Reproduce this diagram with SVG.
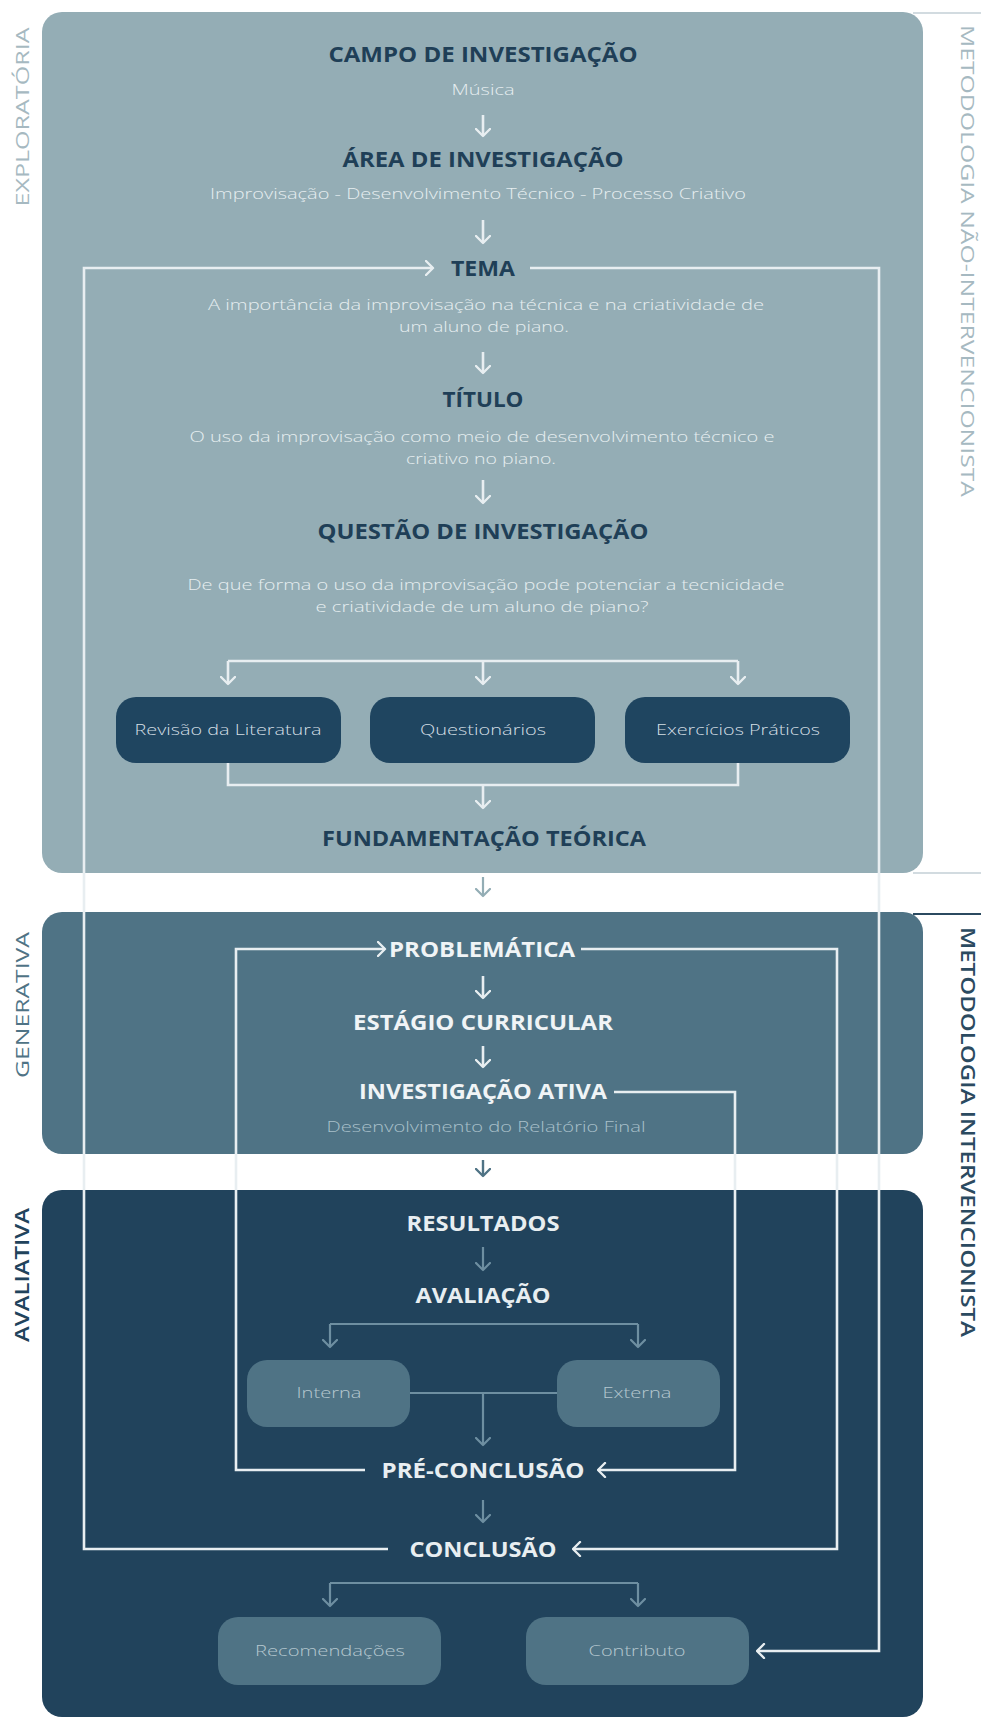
<svg xmlns="http://www.w3.org/2000/svg" width="981" height="1719" viewBox="0 0 981 1719">
<style>
.tt{font-family:"Open Sans","Liberation Sans",sans-serif;font-weight:700;font-size:21px;text-anchor:middle}
.bd{font-family:"Open Sans","Liberation Sans",sans-serif;font-weight:300;font-size:15px;text-anchor:middle}
.sd{font-family:"Open Sans","Liberation Sans",sans-serif;font-weight:400;font-size:19px;text-anchor:middle}
.p1t{fill:#1f3f57}.p1b{fill:#e6edf0}
.p2t{fill:#f0f4f6}.p2b{fill:#a9c0ca}
.p3t{fill:#e8eef1}
.bx1{fill:#1f4560}.bx1t{fill:#d3dee4}
.bx3{fill:#4f7385}.bx3t{fill:#b5c7cf}
.lw{fill:none;stroke:#e8eef1;stroke-width:2.6;stroke-linejoin:miter}
.lg{fill:none;stroke:#6e8fa1;stroke-width:2.2}
</style>
<defs>
<marker id="aw" viewBox="0 0 10 16" refX="8.5" refY="8" markerWidth="10" markerHeight="16" markerUnits="userSpaceOnUse" orient="auto"><path d="M1.5,1 L8.5,8 L1.5,15" fill="none" stroke="#e8eef1" stroke-width="2.4" stroke-linecap="round" stroke-linejoin="round"/></marker>
<marker id="ag" viewBox="0 0 10 16" refX="8.5" refY="8" markerWidth="10" markerHeight="16" markerUnits="userSpaceOnUse" orient="auto"><path d="M1.5,1 L8.5,8 L1.5,15" fill="none" stroke="#6e8fa1" stroke-width="2.2" stroke-linecap="round" stroke-linejoin="round"/></marker>
<marker id="a1" viewBox="0 0 10 16" refX="8.5" refY="8" markerWidth="10" markerHeight="16" markerUnits="userSpaceOnUse" orient="auto"><path d="M1.5,1 L8.5,8 L1.5,15" fill="none" stroke="#93adb5" stroke-width="2.2" stroke-linecap="round" stroke-linejoin="round"/></marker>
<marker id="a2" viewBox="0 0 10 16" refX="8.5" refY="8" markerWidth="10" markerHeight="16" markerUnits="userSpaceOnUse" orient="auto"><path d="M1.5,1 L8.5,8 L1.5,15" fill="none" stroke="#4f7385" stroke-width="2.4" stroke-linecap="round" stroke-linejoin="round"/></marker>
</defs>
<rect width="981" height="1719" fill="#ffffff"/>

<g id="panels">
<rect id="panel-exploratoria" x="42" y="12" width="881" height="861" rx="20" fill="#94adb5"/>
<rect id="panel-generativa" x="42" y="912" width="881" height="242" rx="20" fill="#4f7385"/>
<rect id="panel-avaliativa" x="42" y="1190" width="881" height="527" rx="20" fill="#21435c"/>
</g>

<g id="side-labels">
<path d="M913,13 H981 M913,873 H981" stroke="#c3d0d6" stroke-width="1.5" fill="none"/>
<path d="M913,914 H981" stroke="#2b4a60" stroke-width="2" fill="none"/>
<text class="sd" fill="#a6b9c1" transform="translate(29,117) rotate(-90)" textLength="179" lengthAdjust="spacingAndGlyphs">EXPLORATÓRIA</text>
<text class="sd" fill="#4f7385" transform="translate(29,1005) rotate(-90)" textLength="146" lengthAdjust="spacingAndGlyphs">GENERATIVA</text>
<text class="sd" fill="#21435c" style="font-weight:600" transform="translate(29,1275) rotate(-90)" textLength="134" lengthAdjust="spacingAndGlyphs">AVALIATIVA</text>
<text class="sd" fill="#a6b9c1" transform="translate(961,261) rotate(90)" textLength="472" lengthAdjust="spacingAndGlyphs">METODOLOGIA NÃO-INTERVENCIONISTA</text>
<text class="sd" fill="#2b4a60" style="font-weight:600" transform="translate(961,1132) rotate(90)" textLength="410" lengthAdjust="spacingAndGlyphs">METODOLOGIA INTERVENCIONISTA</text>
</g>

<g id="connectors">
<path class="lw" d="M483,115 V136" marker-end="url(#aw)"/>
<path class="lw" d="M483,220 V243" marker-end="url(#aw)"/>
<path class="lw" d="M483,352 V373" marker-end="url(#aw)"/>
<path class="lw" d="M483,480 V503" marker-end="url(#aw)"/>
<path class="lw" d="M228,661 H738"/>
<path class="lw" d="M228,661 V684" marker-end="url(#aw)"/>
<path class="lw" d="M483,661 V684" marker-end="url(#aw)"/>
<path class="lw" d="M738,661 V684" marker-end="url(#aw)"/>
<path class="lw" d="M228,763 V785 H738 V763"/>
<path class="lw" d="M483,785 V808" marker-end="url(#aw)"/>
<path d="M483,877 V896" fill="none" stroke="#93adb5" stroke-width="2.2" marker-end="url(#a1)"/>
<path d="M483,1160 V1176" fill="none" stroke="#4f7385" stroke-width="2.4" marker-end="url(#a2)"/>
<path class="lw" d="M483,976 V998" marker-end="url(#aw)"/>
<path class="lw" d="M483,1046 V1067" marker-end="url(#aw)"/>
<path class="lg" d="M483,1247 V1270" marker-end="url(#ag)"/>
<path class="lg" d="M330,1324 H638"/>
<path class="lg" d="M330,1324 V1347" marker-end="url(#ag)"/>
<path class="lg" d="M638,1324 V1347" marker-end="url(#ag)"/>
<path class="lg" d="M410,1393 H557"/>
<path class="lg" d="M483,1393 V1445" marker-end="url(#ag)"/>
<path class="lg" d="M483,1500 V1522" marker-end="url(#ag)"/>
<path class="lg" d="M330,1583 H638"/>
<path class="lg" d="M330,1583 V1606" marker-end="url(#ag)"/>
<path class="lg" d="M638,1583 V1606" marker-end="url(#ag)"/>
<path class="lw" d="M388,1549 H84 V268 H433" marker-end="url(#aw)"/>
<path class="lw" d="M530,268 H879 V1651 H757" marker-end="url(#aw)"/>
<path class="lw" d="M365,1470 H236 V949 H385" marker-end="url(#aw)"/>
<path class="lw" d="M581,949 H837 V1549 H573" marker-end="url(#aw)"/>
<path class="lw" d="M614,1092 H735 V1470 H598" marker-end="url(#aw)"/>
</g>

<g id="node-campo"><text class="tt p1t" x="483" y="62" textLength="309" lengthAdjust="spacingAndGlyphs">CAMPO DE INVESTIGAÇÃO</text>
<text class="bd p1b" x="483" y="95" textLength="63" lengthAdjust="spacingAndGlyphs">Música</text></g>
<g id="node-area"><text class="tt p1t" x="483" y="167" textLength="281" lengthAdjust="spacingAndGlyphs">ÁREA DE INVESTIGAÇÃO</text>
<text class="bd p1b" x="478" y="199" textLength="536" lengthAdjust="spacingAndGlyphs">Improvisação - Desenvolvimento Técnico - Processo Criativo</text></g>
<g id="node-tema"><text class="tt p1t" x="483" y="276" textLength="64" lengthAdjust="spacingAndGlyphs">TEMA</text>
<text class="bd p1b" x="486" y="310" textLength="556" lengthAdjust="spacingAndGlyphs">A importância da improvisação na técnica e na criatividade de</text>
<text class="bd p1b" x="484" y="332" textLength="170" lengthAdjust="spacingAndGlyphs">um aluno de piano.</text></g>
<g id="node-titulo"><text class="tt p1t" x="483" y="407" textLength="81" lengthAdjust="spacingAndGlyphs">TÍTULO</text>
<text class="bd p1b" x="482" y="442" textLength="585" lengthAdjust="spacingAndGlyphs">O uso da improvisação como meio de desenvolvimento técnico e</text>
<text class="bd p1b" x="481" y="464" textLength="150" lengthAdjust="spacingAndGlyphs">criativo no piano.</text></g>
<g id="node-questao"><text class="tt p1t" x="483" y="539" textLength="331" lengthAdjust="spacingAndGlyphs">QUESTÃO DE INVESTIGAÇÃO</text>
<text class="bd p1b" x="486" y="590" textLength="597" lengthAdjust="spacingAndGlyphs">De que forma o uso da improvisação pode potenciar a tecnicidade</text>
<text class="bd p1b" x="482" y="612" textLength="333" lengthAdjust="spacingAndGlyphs">e criatividade de um aluno de piano?</text></g>
<g id="node-revisao"><rect class="bx1" x="116" y="697" width="225" height="66" rx="20"/>
<text class="bd bx1t" x="228" y="735" textLength="187" lengthAdjust="spacingAndGlyphs">Revisão da Literatura</text></g>
<g id="node-questionarios"><rect class="bx1" x="370" y="697" width="225" height="66" rx="20"/>
<text class="bd bx1t" x="483" y="735" textLength="126" lengthAdjust="spacingAndGlyphs">Questionários</text></g>
<g id="node-exercicios"><rect class="bx1" x="625" y="697" width="225" height="66" rx="20"/>
<text class="bd bx1t" x="738" y="735" textLength="164" lengthAdjust="spacingAndGlyphs">Exercícios Práticos</text></g>
<g id="node-fundamentacao"><text class="tt p1t" x="484" y="846" textLength="324" lengthAdjust="spacingAndGlyphs">FUNDAMENTAÇÃO TEÓRICA</text></g>

<g id="node-problematica"><text class="tt p2t" x="482" y="957" textLength="186" lengthAdjust="spacingAndGlyphs">PROBLEMÁTICA</text></g>
<g id="node-estagio"><text class="tt p2t" x="483" y="1030" textLength="260" lengthAdjust="spacingAndGlyphs">ESTÁGIO CURRICULAR</text></g>
<g id="node-investigacao"><text class="tt p2t" x="483" y="1099" textLength="248" lengthAdjust="spacingAndGlyphs">INVESTIGAÇÃO ATIVA</text>
<text class="bd p2b" x="486" y="1132" textLength="319" lengthAdjust="spacingAndGlyphs">Desenvolvimento do Relatório Final</text></g>

<g id="node-resultados"><text class="tt p3t" x="483" y="1231" textLength="153" lengthAdjust="spacingAndGlyphs">RESULTADOS</text></g>
<g id="node-avaliacao"><text class="tt p3t" x="483" y="1303" textLength="135" lengthAdjust="spacingAndGlyphs">AVALIAÇÃO</text></g>
<g id="node-interna"><rect class="bx3" x="247" y="1360" width="163" height="67" rx="20"/>
<text class="bd bx3t" x="329" y="1398" textLength="65" lengthAdjust="spacingAndGlyphs">Interna</text></g>
<g id="node-externa"><rect class="bx3" x="557" y="1360" width="163" height="67" rx="20"/>
<text class="bd bx3t" x="637" y="1398" textLength="69" lengthAdjust="spacingAndGlyphs">Externa</text></g>
<g id="node-preconclusao"><text class="tt p3t" x="483" y="1478" textLength="203" lengthAdjust="spacingAndGlyphs">PRÉ-CONCLUSÃO</text></g>
<g id="node-conclusao"><text class="tt p3t" x="483" y="1557" textLength="147" lengthAdjust="spacingAndGlyphs">CONCLUSÃO</text></g>
<g id="node-recomendacoes"><rect class="bx3" x="218" y="1617" width="223" height="68" rx="20"/>
<text class="bd bx3t" x="330" y="1656" textLength="150" lengthAdjust="spacingAndGlyphs">Recomendações</text></g>
<g id="node-contributo"><rect class="bx3" x="526" y="1617" width="223" height="68" rx="20"/>
<text class="bd bx3t" x="637" y="1656" textLength="97" lengthAdjust="spacingAndGlyphs">Contributo</text></g>
</svg>
